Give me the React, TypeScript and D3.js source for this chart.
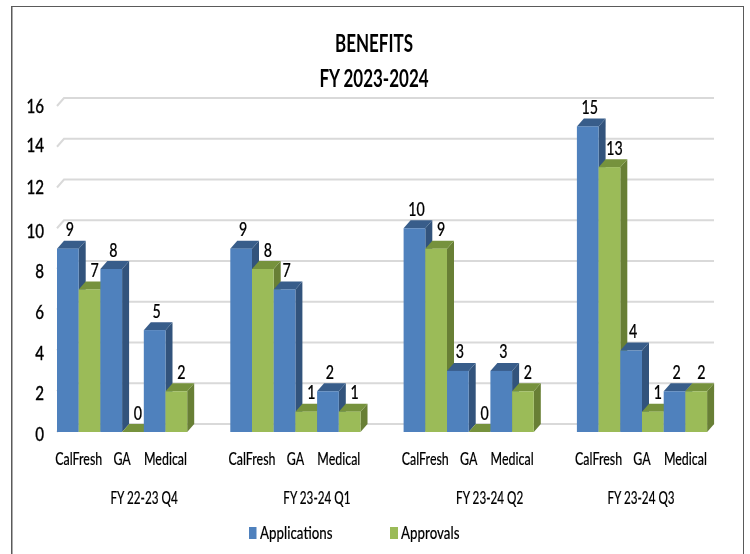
import React from "react";
import * as d3 from "d3";

const quarters = ["FY 22-23 Q4", "FY 23-24 Q1", "FY 23-24 Q2", "FY 23-24 Q3"];
const programs = ["CalFresh", "GA", "Medical"];
const applications = [
  [9, 8, 5],
  [9, 7, 2],
  [10, 3, 3],
  [15, 4, 2],
];
const approvals = [
  [7, 0, 2],
  [8, 1, 1],
  [9, 0, 2],
  [13, 1, 2],
];
const yTicks = [0, 2, 4, 6, 8, 10, 12, 14, 16];
const tickNudge = [2, 2, 2, 2, 2, 3, -1, -2, 0];
const quarterLabelShift = [22, 21.5, 21, -1];

const FONT = "Lato, 'Liberation Sans', sans-serif";
const DX = 7;
const DY = 8;
const BLUE = ["#4f81bd", "#385d8a", "#31537b"];
const GREEN = ["#9bbb59", "#76923c", "#677f35"];

const y = d3.scaleLinear().domain([0, 16]).range([432, 106]);
const xQuarter = d3.scaleBand<string>().domain(quarters).range([57, 750.2]).paddingInner(0).paddingOuter(0).align(0);
const barW = 21.7;

function T({ x, y: ty, sx = 0.8, children, ...rest }: any) {
  return (
    <text transform={`translate(${x},${ty}) scale(${sx},1)`} {...rest}>
      {children}
    </text>
  );
}

export default function App() {
  const pts = (p: number[][]) => p.map((a) => a.join(",")).join(" ");
  const bars: React.ReactNode[] = [];
  const labels: React.ReactNode[] = [];
  quarters.forEach((q, qi) => {
    const x0 = xQuarter(q)!;
    programs.forEach((p, pi) => {
      [applications[qi][pi], approvals[qi][pi]].forEach((v, si) => {
        const x = x0 + (pi * 2 + si) * barW;
        const top = y(v);
        const base = y(0);
        const [front, topC, side] = si === 0 ? BLUE : GREEN;
        bars.push(
          <g key={`${qi}-${pi}-${si}`}>
            <polygon fill={side} points={pts([[x + barW, top], [x + barW + DX, top - DY], [x + barW + DX, base - DY], [x + barW, base]])} />
            <polygon fill={topC} points={pts([[x, top], [x + DX, top - DY], [x + barW + DX, top - DY], [x + barW, top]])} />
            {v > 0 && <rect x={x} y={top} width={barW} height={base - top} fill={front} />}
          </g>
        );
        labels.push(
          <T key={`l${qi}-${pi}-${si}`} x={x + barW / 2 + (si === 0 ? 2 : 5)} y={top - 12.5} sx={0.75} textAnchor="middle" fontSize={19} fontWeight={500} fill="#000" stroke="#000" strokeWidth={0.2}>
            {v}
          </T>
        );
      });
    });
  });

  return (
    <svg width={750} height={554} style={{ position: "absolute", left: 0, top: 0, fontFamily: FONT }}>
      <defs>
        <filter id="soft" x="0" y="0" width="100%" height="100%">
          <feGaussianBlur stdDeviation="0.45" />
        </filter>
      </defs>
      <rect width={750} height={554} fill="#fff" />
      <g filter="url(#soft)">
        <path d="M11.5,554 V6 H744 V554" fill="none" stroke="#5a5a5a" strokeWidth={2} />
        <g stroke="#d9d9d9" strokeWidth={2} fill="none">
          {yTicks.map((t) => (
            <path key={t} d={`M57,${y(t)} L${57 + DX},${y(t) - DY} H714`} />
          ))}
        </g>
        {bars}
        {labels}
        <g textAnchor="end" fontSize={20} fontWeight={500} fill="#000" stroke="#000" strokeWidth={0.3}>
          {yTicks.map((t, i) => (
            <T key={t} x={44} y={y(t) + 7 + tickNudge[i]} sx={0.76}>{t}</T>
          ))}
        </g>
        <g textAnchor="middle" fontSize={17} fontWeight={500} fill="#000" stroke="#000" strokeWidth={0.15}>
          {quarters.map((q) =>
            programs.map((p, pi) => (
              <T key={q + p} x={xQuarter(q)! + (pi * 2 + 1) * barW} y={465} sx={0.73}>{p}</T>
            ))
          )}
          {quarters.map((q, qi) => (
            <T key={q} x={xQuarter(q)! + 3 * barW + quarterLabelShift[qi]} y={504} sx={0.69}>{q}</T>
          ))}
        </g>
        <g textAnchor="middle" fontSize={25} fontWeight={700} fill="#000">
          <T x={374} y={52} sx={0.68}>BENEFITS</T>
          <T x={374} y={87} sx={0.68}>FY 2023-2024</T>
        </g>
        <g fontSize={18} fontWeight={500} fill="#000" stroke="#000" strokeWidth={0.15}>
          <rect x={249} y={527} width={7.5} height={12} fill={BLUE[0]} stroke="none" />
          <T x={260} y={538.5} sx={0.74}>Applications</T>
          <rect x={390} y={527} width={8} height={12} fill={GREEN[0]} stroke="none" />
          <T x={401} y={538.5} sx={0.74}>Approvals</T>
        </g>
      </g>
    </svg>
  );
}
